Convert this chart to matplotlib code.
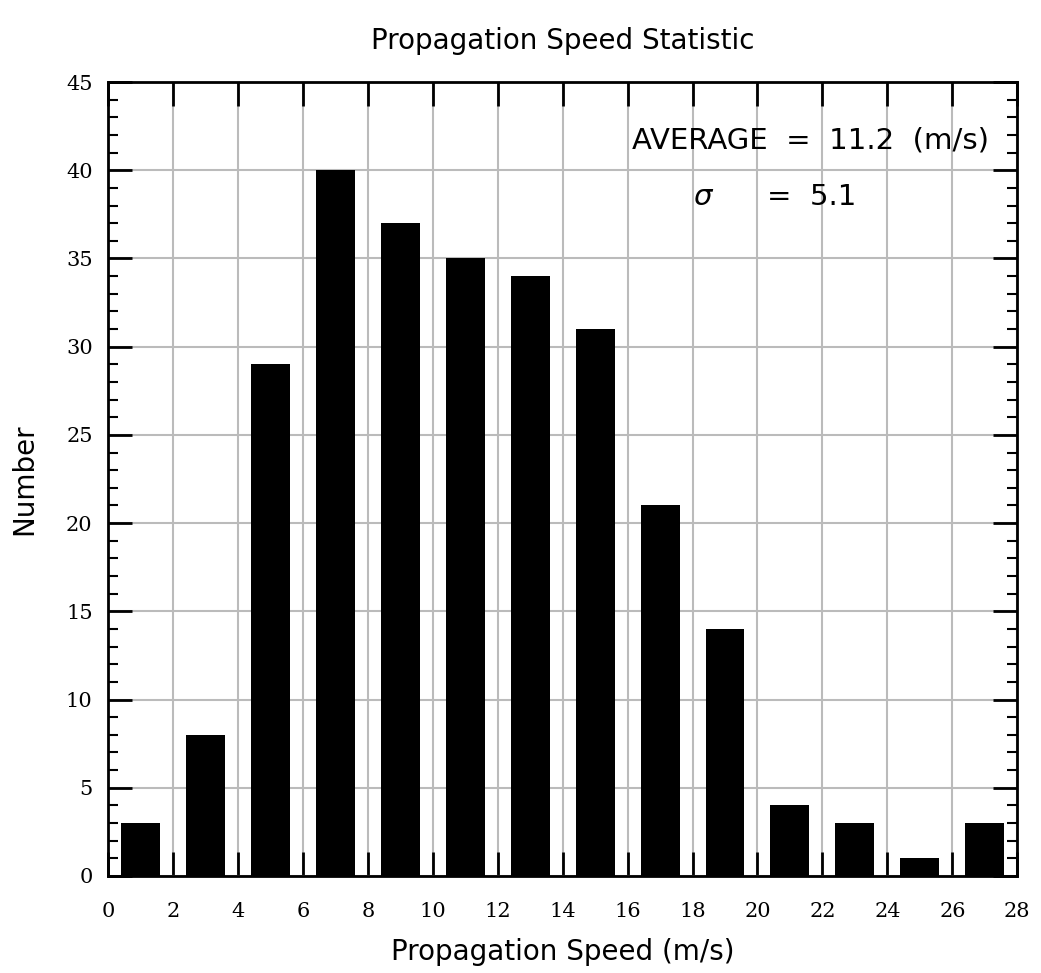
import numpy as np
import matplotlib
matplotlib.use("Agg")
import matplotlib.pyplot as plt
from matplotlib.ticker import MultipleLocator

# histogram of propagation speed (bin centres, counts)
speed = [1, 3, 5, 7, 9, 11, 13, 15, 17, 19, 21, 23, 25, 27]
counts = [3, 8, 29, 40, 37, 35, 34, 31, 21, 14, 4, 3, 1, 3]
avg_text = "AVERAGE  =  11.2  (m/s)"
sigma_text = "=  5.1"

fig = plt.figure(figsize=(10.41, 9.73), dpi=100)
ax = fig.add_axes([0.1037, 0.0997, 0.8735, 0.816])

ax.bar(speed, counts, width=1.2, color="black", zorder=3)

ax.set_xlim(0, 28)
ax.set_ylim(0, 45)
ax.xaxis.set_major_locator(MultipleLocator(2))
ax.yaxis.set_major_locator(MultipleLocator(5))
ax.yaxis.set_minor_locator(MultipleLocator(1))
ax.grid(True, which="major", color="#bbbbbb", linewidth=1.5, zorder=0)

ax.tick_params(axis="x", which="major", direction="in", length=17, width=2,
               top=True, labelsize=15, pad=19, labelfontfamily="DejaVu Serif")
ax.tick_params(axis="y", which="major", direction="in", length=17, width=2,
               right=True, labelsize=15, pad=11, labelfontfamily="DejaVu Serif")
ax.tick_params(axis="y", which="minor", direction="in", length=7, width=1.5,
               left=True, right=True)
for s in ax.spines.values():
    s.set_linewidth(2)

ax.text(16.15, 41.7, avg_text, fontsize=21, va="center", ha="left")
ax.text(18.0, 38.5, r"$\sigma$", fontsize=21, va="center", ha="left")
ax.text(20.3, 38.5, sigma_text, fontsize=21, va="center", ha="left")

ax.set_xlabel("Propagation Speed (m/s)", fontsize=20, labelpad=12)
ax.set_ylabel("Number", fontsize=20, labelpad=20)
fig.text(0.541, 0.958, "Propagation Speed Statistic", fontsize=20,
         ha="center", va="center")

fig.savefig("out.png", dpi=100)
